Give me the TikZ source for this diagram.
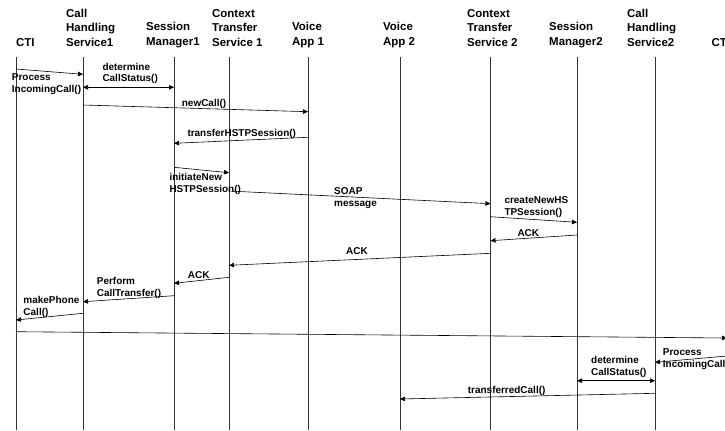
\documentclass[tikz,border=0pt]{standalone}
\usepackage{fontspec}
\setmainfont{Liberation Sans}
\usepackage{tikz}
\usetikzlibrary{arrows.meta}

\begin{document}
\begin{tikzpicture}[x=1bp, y=-1bp,
  actor/.style={font=\bfseries\fontsize{11.5}{14.5}\selectfont, align=left, inner sep=0pt, anchor=base west},
  lbl/.style={font=\bfseries\fontsize{10}{11.7}\selectfont, align=left, inner sep=0pt, anchor=base west},
  life/.style={draw=black!80, line width=0.9pt},
  msg/.style={draw, line width=0.6pt, -{Triangle[length=5bp,width=4.5bp]}},
  twoway/.style={msg, {Triangle[length=5bp,width=4.5bp]}-{Triangle[length=5bp,width=4.5bp]}}]

\useasboundingbox (0,0) rectangle (725,430);
\clip (0,0) rectangle (725,430);

% Lifeline tops
\coordinate (cti) at (16,57);
\coordinate (chs1) at (83,57);
\coordinate (sm1) at (174,57);
\coordinate (cts1) at (229,57);
\coordinate (va1) at (308,57);
\coordinate (va2) at (400,57);
\coordinate (cts2) at (490.5,57);
\coordinate (sm2) at (577,57);
\coordinate (chs2) at (655,57);
\coordinate (ctiB) at (727,57);

% Headers (placed by the baseline of their last line)
\node[actor] (hCti) at (16,46) {CTI};
\node[actor] (hChs1) at (66,46) {Call\\Handling\\Service1};
\node[actor] (hSm1) at (146,45) {Session\\Manager1};
\node[actor] (hCts1) at (212,46) {Context\\Transfer\\Service 1};
\node[actor] (hVa1) at (292,45) {Voice\\App 1};
\node[actor] (hVa2) at (383,45) {Voice\\App 2};
\node[actor] (hCts2) at (467,46) {Context\\Transfer\\Service 2};
\node[actor] (hSm2) at (549,45) {Session\\Manager2};
\node[actor] (hChs2) at (627,46) {Call\\Handling\\Service2};
\node[actor] (hCtiB) at (711.5,46) {CTI};

% Lifelines
\foreach \l in {cti,chs1,sm1,cts1,va1,va2,cts2,sm2,chs2,ctiB}
  \draw[life] (\l) -- (\l |- 0,430);

% Incoming call on the first side
\draw[msg] (cti |- 0,69) -- (chs1 |- 0,74.3);
\node[lbl] (lProc1) at (11.7,92.5) {Process\\IncomingCall()};

\draw[twoway] (chs1 |- 0,87.3) -- (sm1 |- 0,87.3);
\node[lbl] (lDet1) at (102.3,81.7) {determine\\CallStatus()};

\draw[msg] (chs1 |- 0,105) -- (va1 |- 0,111.7);
\node[lbl] (lNew) at (181.7,106.7) {newCall()};

\draw[msg] (va1 |- 0,137.3) -- (sm1 |- 0,143.3);
\node[lbl] (lTrans) at (187.3,136) {transferHSTPSession()};

\draw[msg] (sm1 |- 0,167.3) -- (cts1 |- 0,172.7);
\node[lbl] (lInit) at (169.3,192) {initiateNew\\HSTPSession()};

% Across to the second side
\draw[msg] (cts1 |- 0,191) -- (cts2 |- 0,203.7);
\node[lbl] (lSoap) at (334,206.5) {SOAP\\message};

\draw[msg] (cts2 |- 0,216.7) -- (sm2 |- 0,222.3);
\node[lbl] (lCreate) at (504.3,215.5) {createNewHS\\TPSession()};

\draw[msg] (sm2 |- 0,235) -- (cts2 |- 0,240.7);
\node[lbl] (lAck1) at (517.3,236) {ACK};

\draw[msg] (cts2 |- 0,253.3) -- (cts1 |- 0,265.3);
\node[lbl] (lAck2) at (346,254) {ACK};

\draw[msg] (cts1 |- 0,277.3) -- (sm1 |- 0,283.3);
\node[lbl] (lAck3) at (187.7,278.3) {ACK};

\draw[msg] (sm1 |- 0,295.7) -- (chs1 |- 0,301.7);
\node[lbl] (lPerf) at (96.7,296) {Perform\\CallTransfer()};

\draw[msg] (chs1 |- 0,313.3) -- (cti |- 0,320);
\node[lbl] (lMake) at (23.3,315) {makePhone\\Call()};

% Call handed over
\draw[msg] (cti |- 0,331.7) -- (ctiB |- 0,338);

\draw[msg] (ctiB |- 0,356) -- (chs2 |- 0,362.3);
\node[lbl] (lProc2) at (662.7,367.5) {Process\\IncomingCall()};

\draw[twoway] (sm2 |- 0,380.7) -- (chs2 |- 0,380.7);
\node[lbl] (lDet2) at (591,375) {determine\\CallStatus()};

\draw[msg] (chs2 |- 0,393.3) -- (va2 |- 0,399);
\node[lbl] (lDone) at (467.7,393.3) {transferredCall()};

\end{tikzpicture}
\end{document}
